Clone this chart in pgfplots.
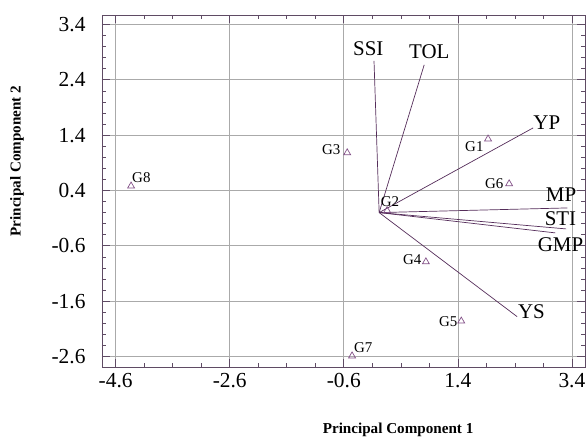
\documentclass[border=0pt]{standalone}
\usepackage{pgfplots}
\pgfplotsset{compat=1.18}
\usepackage{fontspec}
\setmainfont{Liberation Serif}
\definecolor{axcol}{RGB}{95,75,100}
\definecolor{veccol}{RGB}{85,45,90}
\definecolor{ptcol}{RGB}{130,80,135}
\definecolor{gridcol}{RGB}{170,170,170}
\begin{document}
\begin{tikzpicture}
\path[use as bounding box] (-102bp,-72bp) rectangle (484bp,367bp);
\begin{axis}[
  at={(0,0)}, anchor=south west,
  scale only axis, width=483bp, height=352bp,
  xmin=-4.84, xmax=3.63, ymin=-2.79, ymax=3.57,
  xtick={-4.6,-2.6,-0.6,1.4,3.4},
  ytick={-2.6,-1.6,-0.6,0.4,1.4,2.4,3.4},
  xticklabels={-4.6,-2.6,-0.6,1.4,3.4},
  yticklabels={-2.6,-1.6,-0.6,0.4,1.4,2.4,3.4},
  minor x tick num=3, minor y tick num=4,
  tick align=inside, major tick length=8bp, minor tick length=4bp,
  xtick pos=both, ytick pos=both,
  grid=major, major grid style={gridcol, line width=0.6pt},
  axis line style={axcol, line width=0.8pt},
  every tick/.style={axcol, line width=0.6pt},
  tick label style={font=\fontsize{21.5}{23}\selectfont},
  xticklabel style={yshift=-3bp},
  yticklabel style={xshift=-13bp},
  xlabel={\textbf{Principal Component 1}},
  ylabel={\textbf{Principal Component 2}},
  label style={font=\fontsize{15.2}{17}\selectfont},
  xlabel style={at={(axis description cs:0.613,-0.179)}, anchor=center},
  ylabel style={at={(axis description cs:-0.176,0.585)}, anchor=center, rotate=0},
  clip=false,
]
% variable vectors
\addplot[veccol, line width=0.7pt] coordinates {(0.02,0) (-0.07,2.74)};
\addplot[veccol, line width=0.7pt] coordinates {(0.02,0) (0.81,2.67)};
\addplot[veccol, line width=0.7pt] coordinates {(0.02,0) (2.72,1.53)};
\addplot[veccol, line width=0.7pt] coordinates {(0.02,0) (3.32,0.084)};
\addplot[veccol, line width=0.7pt] coordinates {(0.02,0) (3.30,-0.295)};
\addplot[veccol, line width=0.7pt] coordinates {(0.02,0) (3.11,-0.367)};
\addplot[veccol, line width=0.7pt] coordinates {(0.02,0) (2.44,-1.88)};
% genotypes
\addplot[only marks, mark=triangle, mark size=4bp, mark options={ptcol, line width=0.7pt}]
 coordinates {(1.93,1.33) (0.16,0.035) (-0.54,1.08) (0.84,-0.89) (1.46,-1.96) (2.30,0.52) (-0.455,-2.59) (-4.33,0.48)};
% vector labels
\begin{scope}[every node/.style={font=\fontsize{21}{23}\selectfont, inner sep=0pt}]
\node at (axis cs:-0.17,2.97) {SSI};
\node at (axis cs:0.90,2.90) {TOL};
\node at (axis cs:2.96,1.62) {YP};
\node at (axis cs:3.21,0.32) {MP};
\node at (axis cs:3.20,-0.11) {STI};
\node at (axis cs:3.20,-0.58) {GMP};
\node at (axis cs:2.69,-1.79) {YS};
\end{scope}
\begin{scope}[every node/.style={font=\fontsize{15}{17}\selectfont, inner sep=0pt}]
\node at (axis cs:1.69,1.19) {G1};
\node at (axis cs:0.21,0.195) {G2};
\node at (axis cs:-0.82,1.13) {G3};
\node at (axis cs:0.60,-0.85) {G4};
\node at (axis cs:1.23,-1.97) {G5};
\node at (axis cs:2.04,0.52) {G6};
\node at (axis cs:-0.26,-2.44) {G7};
\node at (axis cs:-4.15,0.63) {G8};
\end{scope}
\end{axis}
\end{tikzpicture}
\end{document}
